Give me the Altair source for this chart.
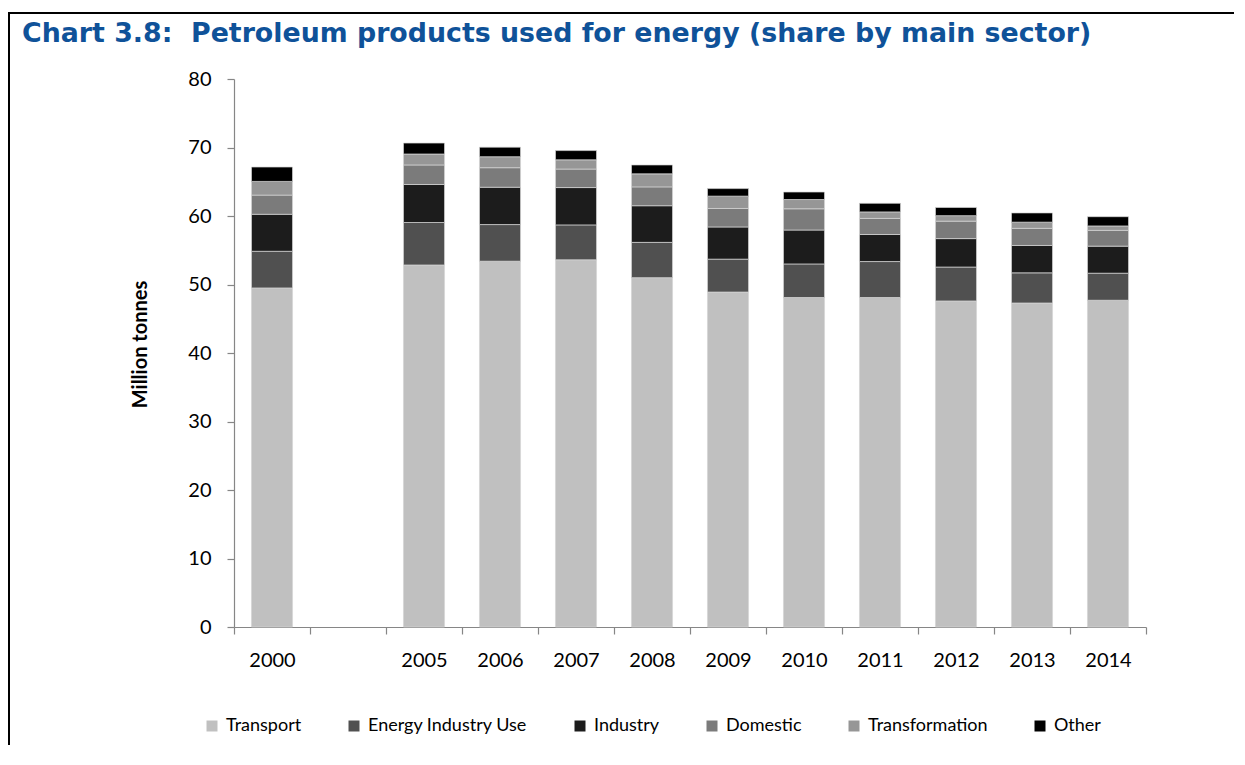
import altair as alt
import pandas as pd

years = ["2000", "2005", "2006", "2007", "2008", "2009", "2010", "2011", "2012", "2013", "2014"]
x_domain = ["2000", "gap", "2005", "2006", "2007", "2008", "2009", "2010", "2011", "2012", "2013", "2014"]

sectors = ["Transport", "Energy Industry Use", "Industry", "Domestic", "Transformation", "Other"]
colors = ["#c0c0c0", "#505050", "#1c1c1c", "#7b7b7b", "#969696", "#000000"]

transport = [49.5, 52.85, 53.4, 53.6, 51.0, 48.9, 48.1, 48.1, 47.6, 47.3, 47.7]
energy_industry_use = [5.35, 6.2, 5.35, 5.1, 5.15, 4.8, 4.9, 5.25, 4.95, 4.4, 3.95]
industry = [5.4, 5.55, 5.45, 5.45, 5.35, 4.7, 4.95, 3.95, 4.15, 4.0, 3.95]
domestic = [2.8, 2.85, 2.85, 2.7, 2.75, 2.7, 3.1, 2.35, 2.55, 2.5, 2.3]
transformation = [2.0, 1.6, 1.6, 1.35, 1.9, 1.8, 1.35, 0.95, 0.8, 0.9, 0.65]
other = [2.1, 1.6, 1.4, 1.35, 1.3, 1.1, 1.1, 1.25, 1.2, 1.35, 1.35]

title_text = "Chart 3.8:\u00a0 Petroleum products used for energy (share by main sector)"

series = [transport, energy_industry_use, industry, domestic, transformation, other]

rows = []
for i, (name, vals) in enumerate(zip(sectors, series)):
    for y, v in zip(years, vals):
        rows.append({"Year": y, "Sector": name, "Value": v, "idx": i})
df = pd.DataFrame(rows)

axis_gray = "#868686"

bars = alt.Chart(df).mark_bar(
    width=alt.RelativeBandSize(0.54), stroke="#d6d6d6", strokeWidth=0.7
).encode(
    x=alt.X(
        "Year:N",
        scale=alt.Scale(domain=x_domain, paddingInner=0, paddingOuter=0),
        axis=alt.Axis(
            title=None,
            labelAngle=0,
            labelExpr="datum.value == 'gap' ? '' : datum.value",
            tickBand="extent",
            labelFont="Lato",
            labelFontSize=20,
            labelColor="#000000",
            labelPadding=16,
            tickSize=7,
            tickColor=axis_gray,
            domainColor=axis_gray,
            domainWidth=1.2,
            tickWidth=1.2,
            grid=False,
        ),
    ),
    y=alt.Y(
        "Value:Q",
        stack="zero",
        scale=alt.Scale(domain=[0, 80], nice=False),
        axis=alt.Axis(
            title="Million tonnes",
            values=[0, 10, 20, 30, 40, 50, 60, 70, 80],
            labelFont="Lato",
            labelFontSize=20,
            labelColor="#000000",
            labelPadding=16,
            tickSize=7,
            tickColor=axis_gray,
            domainColor=axis_gray,
            domainWidth=1.2,
            tickWidth=1.2,
            grid=False,
            titleFont="Lato",
            titleFontSize=20,
            titleFontWeight="bold",
            titleColor="#000000",
            titleAngle=270,
            titleX=-94,
            titleY=265,
            titleAlign="center",
            titleBaseline="middle",
        ),
    ),
    color=alt.Color(
        "Sector:N",
        scale=alt.Scale(domain=sectors, range=colors),
        legend=alt.Legend(
            title=None,
            orient="none",
            direction="horizontal",
            legendX=-31,
            legendY=638,
            symbolType="square",
            symbolSize=121,
            symbolStrokeWidth=0,
            labelFont="Lato",
            labelFontSize=18,
            labelColor="#000000",
            labelOffset=5,
            columnPadding=43,
        ),
    ),
    order=alt.Order("idx:Q", sort="ascending"),
)

frame_df = pd.DataFrame({"a": [0]})
top_line = alt.Chart(frame_df).mark_rule(color="#000000", strokeWidth=2).encode(
    x=alt.value(-225), x2=alt.value(1010), y=alt.value(-66)
)
left_line = alt.Chart(frame_df).mark_rule(color="#000000", strokeWidth=2).encode(
    x=alt.value(-225), y=alt.value(-67), y2=alt.value(670)
)
title_mark = alt.Chart(frame_df).mark_text(
    align="left",
    baseline="alphabetic",
    font="DejaVu Sans",
    fontSize=26.8,
    fontWeight="bold",
    color="#0f5299",
).encode(
    x=alt.value(-212),
    y=alt.value(-37),
    text=alt.value(title_text),
)

chart = alt.layer(bars, top_line, left_line, title_mark).properties(
    width=912,
    height=548,
    autosize=alt.AutoSizeParams(type="none"),
    padding={"left": 226, "top": 71, "right": 88, "bottom": 118},
).configure(background="#ffffff").configure_view(stroke=None)

chart.save("out.html", embed_options={"renderer": "svg", "actions": False})
